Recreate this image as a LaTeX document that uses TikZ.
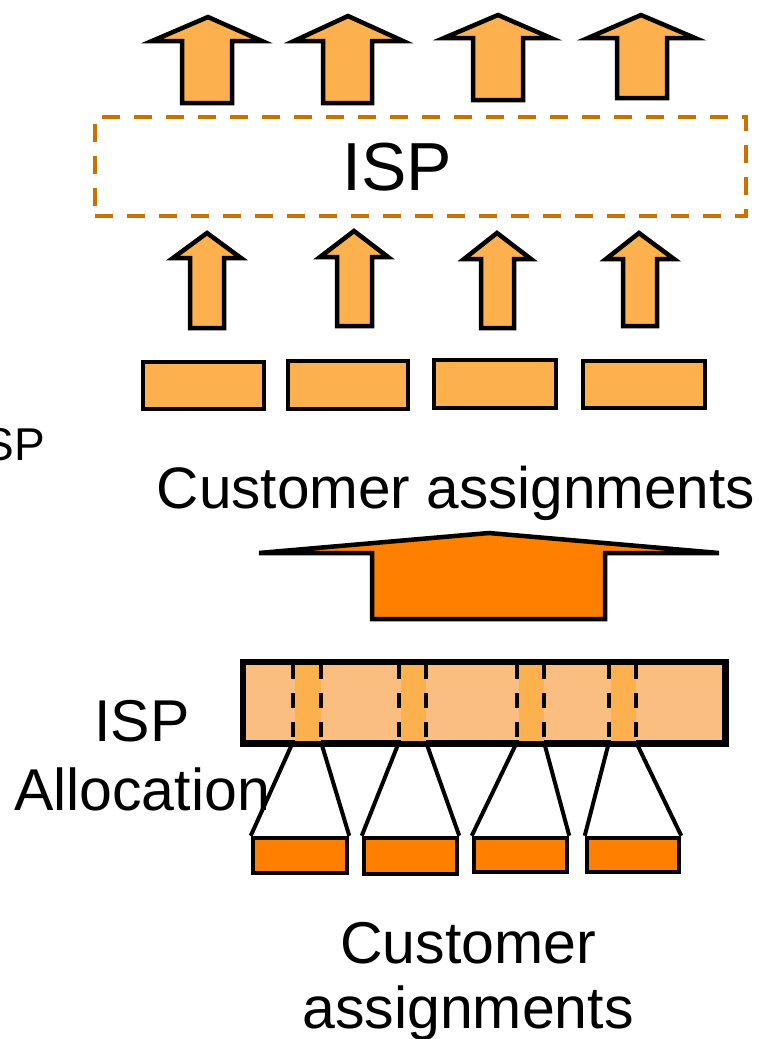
\documentclass[tikz,border=0pt]{standalone}
\usepackage{fontspec}
\setmainfont{Liberation Sans}
\definecolor{lightor}{HTML}{FDB04E}
\definecolor{darkor}{HTML}{FF7F00}
\definecolor{paleor}{HTML}{FABF80}
\definecolor{boxor}{HTML}{CC7000}
\tikzset{
  arr/.style={draw=black, line width=4.5pt, fill=lightor, line join=miter},
  bigarr/.style={draw=black, line width=4.5pt, fill=darkor, line join=miter},
  lbox/.style={draw=black, line width=4.5pt, fill=lightor},
  dbox/.style={draw=black, line width=4.5pt, fill=darkor},
  funnel/.style={draw=black, line width=4pt},
  stripe/.style={draw=black, line width=4pt, dash pattern=on 15pt off 14pt},
  lbl/.style={inner sep=0pt, anchor=base, align=center},
}
\newcommand{\uparrowshape}[8]{% tipx tipy headL headR baseY shaftL shaftR bottom
  \filldraw[arr] (#1,#2) -- (#4,#5) -- (#7,#5) -- (#7,#8) -- (#6,#8) -- (#6,#5) -- (#3,#5) -- cycle;}
\begin{document}
\begin{tikzpicture}[x=1pt,y=-1pt]
\clip (0,0) rectangle (759,1039);
\fill[white] (0,0) rectangle (759,1039);
% top arrows
\uparrowshape{208}{17}{152}{262}{41}{182}{232}{103}
\uparrowshape{348}{16}{294}{403}{41}{323}{372}{103}
\uparrowshape{498}{15}{444}{551}{38}{473}{523}{100}
\uparrowshape{641}{15}{588}{695}{38}{617}{667}{98}
% ISP dashed box
\node[draw=boxor, line width=4pt, dash pattern=on 18pt off 14pt, minimum width=651pt, minimum height=99pt, inner sep=0pt] (isp) at (420.5,166.5) {};
\node[lbl, font=\fontsize{68}{80}\selectfont] (isplbl) at (397,190) {ISP};
% middle arrows
\uparrowshape{207}{233}{173}{241}{258}{190}{224}{328}
\uparrowshape{354}{231}{320}{388}{257}{337}{372}{326}
\uparrowshape{497}{233}{464}{531}{259}{481}{514}{328}
\uparrowshape{639}{233}{606}{674}{259}{623}{657}{326}
% blocks
\node[lbox, minimum width=121pt, minimum height=47pt, inner sep=0pt] (b1) at (203.5,385.5) {};
\node[lbox, minimum width=120pt, minimum height=48pt, inner sep=0pt] (b2) at (348,385) {};
\node[lbox, minimum width=122pt, minimum height=48pt, inner sep=0pt] (b3) at (495,384) {};
\node[lbox, minimum width=122pt, minimum height=47pt, inner sep=0pt] (b4) at (644,384.5) {};
% partial ISP at left
\node[inner sep=0pt, anchor=base west, font=\fontsize{46}{55}\selectfont] (ispleft) at (-29,460) {ISP};
% Customer assignments
\node[lbl, font=\fontsize{58.5}{68}\selectfont] (ca1) at (456,508) {Customer assignments};
% big arrow
\filldraw[bigarr] (489,533) -- (719,553) -- (605,553) -- (605,619) -- (372,619) -- (372,553) -- (259,553) -- cycle;
% allocation bar
\node[draw=black, line width=4.5pt, fill=paleor, minimum width=480pt, minimum height=79pt, inner sep=0pt] (alloc) at (484,702.5) {};
\foreach \l/\r [count=\i] in {293/321, 399/426, 517/544, 609/636}{
  \fill[lightor] (\l+2,665) rectangle (\r,741);
  \draw[stripe] (\l,664) -- (\l,742);
  \draw[stripe] (\r,664) -- (\r,742);
  \coordinate (tl\i) at (\l,742);
  \coordinate (tr\i) at (\r,742);
}
\draw[line width=4.5pt] (alloc.north west) rectangle (alloc.south east);
% customer blocks
\node[dbox, minimum width=94pt, minimum height=35pt, inner sep=0pt] (c1) at (300,855.5) {};
\node[dbox, minimum width=93pt, minimum height=36pt, inner sep=0pt] (c2) at (410.5,856) {};
\node[dbox, minimum width=93pt, minimum height=34pt, inner sep=0pt] (c3) at (520.5,855) {};
\node[dbox, minimum width=92pt, minimum height=34pt, inner sep=0pt] (c4) at (633,855) {};
\draw[funnel] (tl1) -- (c1.north west); \draw[funnel] (tr1) -- (c1.north east);
\draw[funnel] (tl2) -- (c2.north west); \draw[funnel] (tr2) -- (c2.north east);
\draw[funnel] (tl3) -- (c3.north west); \draw[funnel] (tr3) -- (c3.north east);
\draw[funnel] (tl4) -- (c4.north west); \draw[funnel] (tr4) -- (c4.north east);
% labels
\node[lbl, font=\fontsize{59}{70}\selectfont] (isp2) at (142,741) {ISP};
\node[lbl, font=\fontsize{59}{70}\selectfont] (allocl) at (142,810) {Allocation};
\node[lbl, font=\fontsize{59}{68}\selectfont] (ca2) at (468,963) {Customer};
\node[lbl, font=\fontsize{59}{68}\selectfont] (ca3) at (468,1028) {assignments};
\end{tikzpicture}
\end{document}
